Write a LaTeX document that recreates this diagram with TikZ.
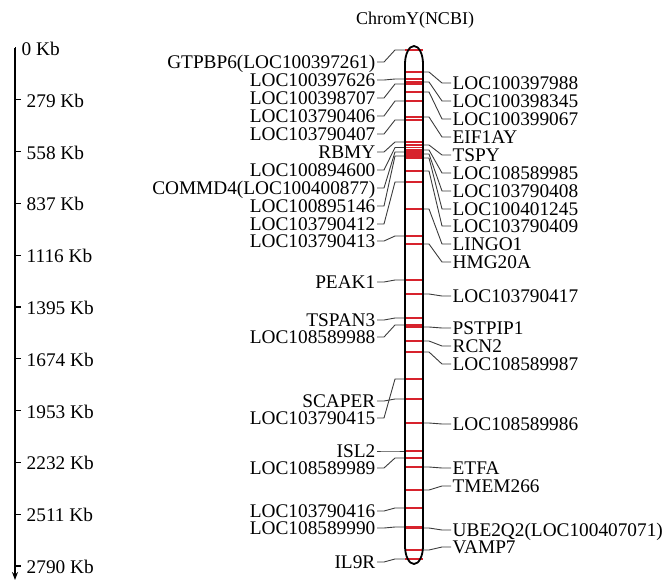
\documentclass[tikz,border=0pt]{standalone}
\usepackage{fontspec}
\setmainfont{Liberation Serif}
\usetikzlibrary{arrows.meta}
\definecolor{CromoBanda}{RGB}{215,35,45}
\definecolor{CromoLinha}{RGB}{60,60,60}
\tikzset{
  rotulo/.style={font=\fontsize{19.3}{21}\selectfont, inner xsep=1.5pt, inner ysep=0pt,
                 text height=13pt, text depth=0pt},
  banda/.style={CromoBanda, line width=1.2pt},
  ligacao/.style={CromoLinha, line width=0.9pt},
  cromossomo/.style={black, line width=1.8pt},
  eixo/.style={black, line width=1.3pt},
}

\begin{document}
\begin{tikzpicture}[x=1pt, y=-1pt]
  \useasboundingbox (0,0) rectangle (670,582);

  % Titulo
  \node[rotulo, font=\fontsize{18}{20}\selectfont] (titulo) at (415,18) {ChromY(NCBI)};

  % Escala
  \coordinate (topo) at (15,47.5);
  \coordinate (fim) at (15,580);
  \draw[eixo, -{Stealth[length=8pt, width=6pt]}] (topo) -- (fim);
  \foreach \i in {0,...,10} {
    \pgfmathtruncatemacro{\kb}{279*\i}
    \pgfmathsetmacro{\xk}{\i==0 ? 20 : 25}
    \draw[eixo] (15,48+51.8*\i) -- ++(\xk-19,0);
    \node[rotulo, anchor=west] (kb\i) at (\xk,49+51.8*\i) {\kb\ Kb};
  }

  % Genes a esquerda
  \foreach \l/\b/\txt [count=\n] in {
      62/50/GTPBP6(LOC100397261), 80/79/LOC100397626, 98/84/LOC100398707,
      116/101/LOC103790406, 134/120/LOC103790407, 152/142/RBMY,
      170/147.5/LOC100894600, 188/152/COMMD4(LOC100400877), 206/156/LOC100895146,
      224/182/LOC103790412, 241/236/LOC103790413, 282/280/PEAK1,
      320/318/TSPAN3, 337/325/LOC108589988, 401/399/SCAPER,
      418/379/LOC103790415, 451/451/ISL2, 468/458/LOC108589989,
      511/508/LOC103790416, 528/527/LOC108589990, 562/559/IL9R} {
    \node[rotulo, anchor=east] (esq\n) at (377,\l) {\txt};
    \coordinate (besq\n) at (405,\b);
    \draw[banda] (besq\n) -- ++(18,0);
    \draw[ligacao] (esq\n.east) -- ++(7,0) -- ([xshift=-10pt]besq\n) -- (besq\n);
  }

  % Genes a direita
  \foreach \l/\b/\txt [count=\n] in {
      83/72/LOC100397988, 101/82/LOC100398345, 119/92/LOC100399067,
      137/117/EIF1AY, 155/145/TSPY, 173/150/LOC108589985,
      191/154/LOC103790408, 209/158/LOC100401245, 226/171/LOC103790409,
      244/209/LINGO1, 262/244/HMG20A, 296/294/LOC103790417,
      328/327/PSTPIP1, 346/341/RCN2, 364/352/LOC108589987,
      424/423/LOC108589986, 468/467/ETFA, 486/490/TMEM266,
      530/528/UBE2Q2(LOC100407071), 547/550/VAMP7} {
    \node[rotulo, anchor=west] (dir\n) at (451,\l) {\txt};
    \coordinate (bdir\n) at (423,\b);
    \draw[banda] (bdir\n) -- ++(-18,0);
    \draw[ligacao] (bdir\n) -- ++(6,0) -- ([xshift=-9pt]dir\n.west) -- (dir\n.west);
  }

  % Cromossomo
  \draw[cromossomo] (405,64) -- (405,546)
    arc[start angle=180, end angle=0, x radius=9, y radius=18] -- (423,64)
    arc[start angle=0, end angle=-180, x radius=9, y radius=18] -- cycle;
\end{tikzpicture}
\end{document}
